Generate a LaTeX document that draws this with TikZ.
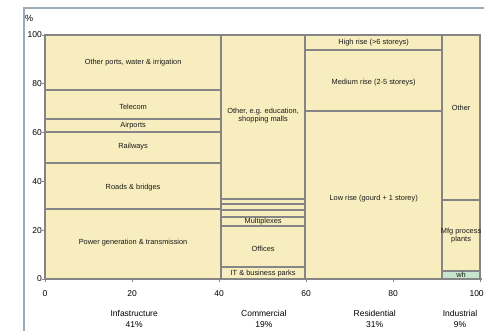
\documentclass[tikz,border=0pt]{standalone}
\usepackage{fontspec}
\setmainfont{Liberation Sans}
\definecolor{boxfill}{HTML}{F8EDBE}
\definecolor{boxline}{HTML}{858585}
\definecolor{whfill}{HTML}{C6E5CC}
\definecolor{framecol}{HTML}{9EAAB8}
\begin{document}
\begin{tikzpicture}[x=1pt,y=-1pt,
  cell/.style={draw=boxline, fill=boxfill, line width=2.4pt},
  lab/.style={font=\fontsize{7.4}{8.6}\selectfont, inner sep=0pt, align=center, text=black!90},
  tick/.style={font=\fontsize{8.5}{9}\selectfont, inner sep=0pt},
  cat/.style={font=\fontsize{8.5}{11}\selectfont, inner sep=0pt, align=center},
  tk/.style={draw=boxline, line width=0.8pt}]
\useasboundingbox (0,0) rectangle (484,331);
\fill[white] (0,0) rectangle (484,331);
% outer frame
\draw[framecol, line width=2pt] (23.5,331) -- (23.5,8.5) -- (484,8.5);
\node[tick, anchor=west, font=\fontsize{9}{10}\selectfont] (pct) at (25,18) {\%};
\begin{scope}[x=4.35pt, y=2.44pt, shift={(45pt,-279pt)}]
  % baseline
  \draw[boxline, line width=1.2pt] (0,0) -- (100.5,0);
  % ticks
  \foreach \v in {0,20,40,60,80,100} {
    \draw[tk] (-0.6,\v) -- (0,\v);
    \node[tick, anchor=east] (y\v) at (-0.7,\v) {\v};
    \draw[tk] (\v,0) -- (\v,-1.2);
  }
  \foreach \v in {0,20,40,60,80} {
    \node[tick, anchor=north] (x\v) at (\v,-4.8) {\v};
  }
  \node[tick, anchor=north east] (x100) at (100.9,-4.8) {100};
  % Infrastructure
  \draw[cell] (0,0) rectangle (40.5,28.7);
  \draw[cell] (0,28.7) rectangle (40.5,47.5);
  \draw[cell] (0,47.5) rectangle (40.5,60.2);
  \draw[cell] (0,60.2) rectangle (40.5,65.6);
  \draw[cell] (0,65.6) rectangle (40.5,77.5);
  \draw[cell] (0,77.5) rectangle (40.5,100);
  \node[lab] (power) at (20.25,14.8) {Power generation \& transmission};
  \node[lab] (roads) at (20.25,37.6) {Roads \& bridges};
  \node[lab] (rail) at (20.25,54.3) {Railways};
  \node[lab] (air) at (20.25,62.9) {Airports};
  \node[lab] (tel) at (20.25,70.5) {Telecom};
  \node[lab] (ports) at (20.25,88.7) {Other ports, water \& irrigation};
  % Commercial
  \draw[cell] (40.5,0) rectangle (59.8,4.9);
  \draw[cell] (40.5,4.9) rectangle (59.8,21.7);
  \draw[cell] (40.5,21.7) rectangle (59.8,25.4);
  \draw[cell] (40.5,25.4) rectangle (59.8,28.3);
  \draw[cell] (40.5,28.3) rectangle (59.8,30.7);
  \draw[cell] (40.5,30.7) rectangle (59.8,32.8);
  \draw[cell] (40.5,32.8) rectangle (59.8,100);
  \node[lab] (itp) at (50.15,2.4) {IT \& business parks};
  \node[lab] (off) at (50.15,12.2) {Offices};
  \node[lab] (mult) at (50.15,23.4) {Multiplexes};
  \node[lab] (othc) at (50.15,67) {Other, e.g. education,\\shopping malls};
  % Residential
  \draw[cell] (59.8,0) rectangle (91.3,68.9);
  \draw[cell] (59.8,68.9) rectangle (91.3,93.9);
  \draw[cell] (59.8,93.9) rectangle (91.3,100);
  \node[lab] (low) at (75.55,33) {Low rise (gourd + 1 storey)};
  \node[lab] (med) at (75.55,80.5) {Medium rise (2-5 storeys)};
  \node[lab] (high) at (75.55,96.9) {High rise (>6 storeys)};
  % Industrial
  \draw[cell, fill=whfill] (91.3,0) rectangle (100,3.3);
  \draw[cell] (91.3,3.3) rectangle (100,32.4);
  \draw[cell] (91.3,32.4) rectangle (100,100);
  \node[lab] (wh) at (95.65,1.7) {wh};
  \node[lab] (mfg) at (95.65,17.8) {Mfg process\\plants};
  \node[lab] (othi) at (95.65,70.3) {Other};
  % categories
  \node[cat] (infra) at (20.5,-16.5) {Infastructure\\41\%};
  \node[cat] (comm) at (50.3,-16.5) {Commercial\\19\%};
  \node[cat] (res) at (75.8,-16.5) {Residential\\31\%};
  \node[cat] (ind) at (95.4,-16.5) {Industrial\\9\%};
\end{scope}
\end{tikzpicture}
\end{document}
